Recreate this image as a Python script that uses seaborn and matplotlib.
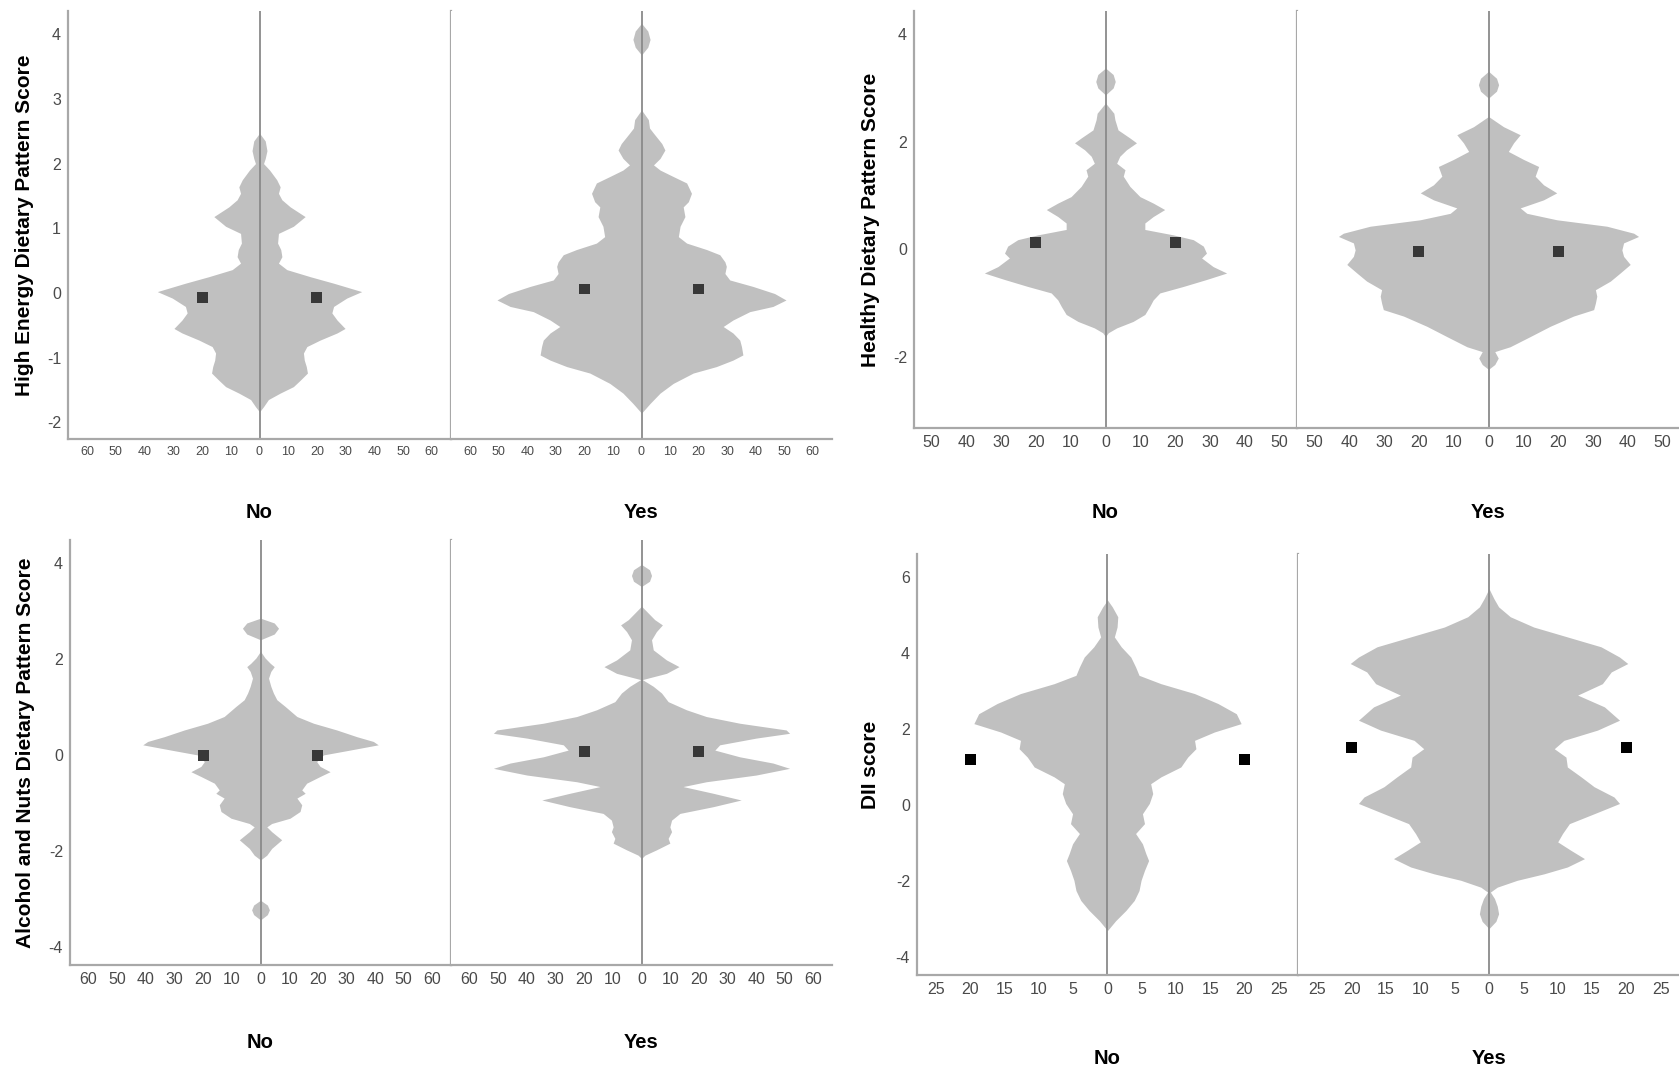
import matplotlib
matplotlib.use("Agg")
import matplotlib.pyplot as plt
import numpy as np
import pandas as pd
import seaborn as sns

# ---- frequency profiles (score level -> count), one per group ----
# High Energy Dietary Pattern
he_no_y = [2.47, 2.35, 2.2, 2.08, 2.0, 1.9, 1.75, 1.64, 1.54, 1.44, 1.33, 1.18, 1.03, 0.92, 0.77,
           0.67, 0.56, 0.46, 0.36, 0.25, 0.15, 0.02, -0.08, -0.21, -0.31, -0.42, -0.55, -0.62, -0.73,
           -0.83, -0.93, -1.04, -1.14, -1.24, -1.35, -1.45, -1.55, -1.65, -1.76, -1.84]
he_no_n = [0, 2.0, 2.6, 2.0, 1.4, 3.5, 6.0, 7.2, 6.6, 7.8, 10.7, 15.9, 11.8, 6.6, 6.3,
           7.4, 7.8, 6.6, 9.5, 17.7, 25.8, 35.6, 30.4, 25.8, 25.2, 27.0, 29.8, 27.0, 21.1,
           16.5, 15.3, 15.6, 16.3, 16.7, 14.2, 11.8, 7.2, 3.1, 1.4, 0]
he_yes_y = [4.17, 4.05, 3.92, 3.80, 3.68, 2.83, 2.68, 2.55, 2.47, 2.31, 2.21, 2.08, 1.98, 1.90, 1.80,
            1.70, 1.54, 1.41, 1.33, 1.18, 1.03, 0.87, 0.77, 0.67, 0.59, 0.48, 0.41, 0.30, 0.20, 0.10,
            -0.01, -0.11, -0.21, -0.29, -0.42, -0.52, -0.62, -0.73, -0.83, -0.96, -1.04, -1.14,
            -1.24, -1.40, -1.55, -1.71, -1.86]
he_yes_n = [0, 2.2, 3.0, 2.2, 0, 0, 2.4, 2.8, 4.2, 7.1, 8.2, 6.5, 4.2, 6.5, 11.1,
            15.8, 17.5, 16.4, 14.6, 15.2, 13.5, 12.9, 15.8, 22.8, 27.4, 29.2, 29.7, 29.2, 30.9, 39.0,
            46.6, 50.6, 46.0, 37.9, 32.0, 28.6, 32.0, 34.4, 35.0, 35.5, 32.0, 26.2,
            18.1, 11.1, 6.5, 3.0, 0]
he_means = [-0.07, 0.06]

# Healthy Dietary Pattern
hd_no_y = [3.37, 3.25, 3.12, 3.0, 2.87, 2.72, 2.53, 2.41, 2.22, 2.07, 1.98, 1.85, 1.73, 1.60, 1.48,
           1.36, 1.17, 0.98, 0.86, 0.74, 0.61, 0.49, 0.37, 0.27, 0.18, 0.06, -0.07, -0.16, -0.32,
           -0.44, -0.56, -0.69, -0.81, -0.94, -1.06, -1.21, -1.34, -1.46, -1.55, -1.62]
hd_no_n = [0, 2.2, 2.8, 2.2, 0, 0, 2.4, 2.7, 3.6, 7.0, 8.9, 6.0, 4.1, 3.2, 5.6,
           5.1, 7.0, 9.9, 13.7, 17.0, 13.7, 11.3, 11.3, 19.4, 25.2, 28.1, 29.0, 27.6, 30.9,
           34.8, 29.0, 22.3, 15.6, 13.7, 12.7, 11.3, 7.9, 3.2, 0.8, 0]
hd_yes_y = [3.31, 3.18, 3.06, 2.94, 2.81, 2.47, 2.28, 2.13, 1.98, 1.82, 1.67, 1.54, 1.36, 1.20, 1.05,
            0.92, 0.77, 0.67, 0.55, 0.43, 0.30, 0.24, 0.12, -0.01, -0.13, -0.28, -0.44, -0.59,
            -0.75, -0.87, -1.0, -1.12, -1.24, -1.43, -1.62, -1.81, -1.90, -2.02, -2.14, -2.23]
hd_yes_n = [0, 2.3, 2.9, 2.3, 0, 0, 4.3, 9.1, 7.2, 5.7, 10.1, 14.4, 13.4, 15.8, 19.6,
            15.8, 9.1, 11.0, 19.6, 34.0, 41.7, 43.1, 38.8, 38.3, 38.8, 40.7, 37.8, 35.0,
            30.7, 31.1, 30.7, 30.2, 24.4, 17.7, 12.0, 6.2, 1.8, 2.8, 1.8, 0]
hd_means = [0.13, -0.04]

# Alcohol and Nuts Dietary Pattern
an_no_y = [2.85, 2.75, 2.64, 2.52, 2.40, 2.16, 2.02, 1.91, 1.84, 1.74, 1.60, 1.43, 1.29, 1.15, 1.01,
           0.80, 0.66, 0.52, 0.38, 0.28, 0.21, 0.10, 0.0, -0.14, -0.24, -0.35, -0.45, -0.59, -0.73,
           -0.80, -0.90, -1.04, -1.18, -1.32, -1.43, -1.50, -1.60, -1.77, -1.95, -2.09, -2.19,
           -3.03, -3.13, -3.23, -3.33, -3.44]
an_no_n = [0, 4.8, 6.3, 4.8, 0, 0, 1.6, 3.4, 4.8, 3.6, 2.8, 3.6, 4.5, 5.7, 8.6,
           12.7, 18.5, 26.6, 33.6, 39.4, 41.1, 31.2, 22.0, 19.6, 20.8, 24.3, 20.8, 16.1, 14.4,
           15.6, 12.7, 14.4, 13.8, 10.3, 3.9, 2.2, 3.9, 7.4, 3.9, 2.2, 0,
           0, 2.4, 3.1, 2.4, 0]
an_yes_y = [3.97, 3.86, 3.74, 3.62, 3.51, 3.10, 2.96, 2.82, 2.71, 2.57, 2.40, 2.19, 1.98, 1.84, 1.70,
            1.57, 1.43, 1.29, 1.11, 0.94, 0.80, 0.66, 0.52, 0.45, 0.35, 0.21, 0.10, -0.04, -0.17,
            -0.28, -0.42, -0.56, -0.66, -0.80, -0.94, -1.08, -1.22, -1.36, -1.50, -1.60, -1.74,
            -1.84, -1.98, -2.09, -2.16]
an_yes_n = [0, 2.8, 3.5, 2.8, 0, 0, 2.3, 4.6, 7.3, 5.2, 3.5, 4.1, 8.7, 13.1, 8.7,
            0.3, 4.1, 7.0, 9.3, 15.7, 22.6, 34.3, 50.5, 51.7, 40.0, 27.3, 25.6, 34.3, 45.9,
            51.7, 40.0, 22.6, 14.5, 25.0, 34.8, 25.0, 13.4, 10.5, 9.9, 10.5, 9.3,
            9.9, 5.2, 1.2, 0]
an_means = [-0.02, 0.08]

# DII
dii_no_y = [5.39, 5.21, 4.95, 4.68, 4.42, 4.16, 3.89, 3.63, 3.41, 3.19, 2.93, 2.67, 2.40, 2.14, 1.92,
            1.70, 1.48, 1.26, 1.00, 0.74, 0.56, 0.30, 0.04, -0.23, -0.49, -0.75, -1.02, -1.28,
            -1.46, -1.72, -1.98, -2.25, -2.51, -2.77, -3.04, -3.30]
dii_no_n = [0, 0.7, 1.5, 1.4, 1.0, 2.0, 3.4, 4.1, 4.6, 7.8, 12.7, 16.1, 18.8, 19.5, 15.6,
            12.7, 12.9, 11.7, 10.7, 7.8, 6.3, 6.6, 6.1, 5.1, 5.4, 4.1, 5.1, 5.6,
            6.0, 5.4, 4.9, 4.6, 3.9, 2.7, 1.2, 0]
dii_yes_y = [5.69, 5.43, 5.21, 4.95, 4.68, 4.42, 4.16, 3.89, 3.72, 3.50, 3.19, 2.89, 2.58, 2.23, 1.97,
             1.70, 1.48, 1.26, 1.00, 0.74, 0.48, 0.21, 0.04, -0.23, -0.49, -0.75, -0.97, -1.19,
             -1.41, -1.63, -1.81, -1.98, -2.16, -2.29, -2.46, -2.66, -2.86, -3.06, -3.25]
dii_yes_n = [0, 0.7, 1.4, 3.1, 6.5, 11.4, 16.3, 19.0, 20.2, 17.8, 16.5, 12.9, 16.8, 19.0, 15.8,
             10.9, 9.5, 11.2, 11.4, 13.4, 15.3, 18.2, 19.0, 15.3, 11.7, 10.7, 10.0, 11.9,
             13.9, 11.4, 8.0, 4.1, 1.2, 0.2, 0.8, 1.2, 1.4, 1.0, 0]
dii_means = [1.2, 1.5]

groups = ["No", "Yes"]
mean_marker_x = 20

# ---- styling ----
sns.set_theme(style="white")
plt.rcParams["font.family"] = ["Liberation Sans", "DejaVu Sans"]

FILL = "#c0c0c0"
AXIS = "#a8a8a8"
CENTER = "#8a8a8a"
TICK = "#4a4a4a"

W, H = 1679, 1071
fig = plt.figure(figsize=(W / 100, H / 100), dpi=100)


def px_box(x0, x1, y0, y1):
    """Axes rect from pixel extents (top-left origin)."""
    return [x0 / W, 1 - y1 / H, (x1 - x0) / W, (y1 - y0) / H]


panels = [
    dict(ylabel="High Energy Dietary Pattern Score", box=(68, 451, 832, 11, 439),
         xlim=66.7, xticks=np.arange(-60, 61, 10), ylim=(-2.26, 4.36), yticks=np.arange(-2, 5, 1),
         prof=[(he_no_y, he_no_n), (he_yes_y, he_yes_n)], means=he_means,
         mcolor="#383838", xfs=9, group_y=512, lab_x=-0.089),
    dict(ylabel="Healthy Dietary Pattern Score", box=(914, 1297, 1680, 11, 428),
         xlim=55.0, xticks=np.arange(-50, 51, 10), ylim=(-3.32, 4.43), yticks=[-2, 0, 2, 4],
         prof=[(hd_no_y, hd_no_n), (hd_yes_y, hd_yes_n)], means=hd_means,
         mcolor="#383838", xfs=11.5, group_y=512, lab_x=-0.089),
    dict(ylabel="Alcohol and Nuts Dietary Pattern Score", box=(70, 451, 832, 540, 965),
         xlim=66.5, xticks=np.arange(-60, 61, 10), ylim=(-4.38, 4.48), yticks=[-4, -2, 0, 2, 4],
         prof=[(an_no_y, an_no_n), (an_yes_y, an_yes_n)], means=an_means,
         mcolor="#383838", xfs=11.5, group_y=1043, lab_x=-0.092),
    dict(ylabel="DII score", box=(917, 1298, 1680, 554, 975),
         xlim=27.8, xticks=np.arange(-25, 26, 5), ylim=(-4.47, 6.6), yticks=[-4, -2, 0, 2, 4, 6],
         prof=[(dii_no_y, dii_no_n), (dii_yes_y, dii_yes_n)], means=dii_means,
         mcolor="#000000", xfs=11.5, group_y=1058, lab_x=-0.097),
]

for p in panels:
    x0, xm, x1, y0, y1 = p["box"]
    halves = [(x0, xm), (xm, x1)]
    for k, (g, (ys, ns)) in enumerate(zip(groups, p["prof"])):
        ax = fig.add_axes(px_box(halves[k][0], halves[k][1], y0, y1))
        ys = np.asarray(ys, float)
        ns = np.asarray(ns, float)
        ax.fill_betweenx(ys, -ns, ns, color=FILL, lw=0, zorder=1)
        ax.axvline(0, color=CENTER, lw=1.3, zorder=2)

        mdf = pd.DataFrame({"x": [-mean_marker_x, mean_marker_x],
                            "y": [p["means"][k]] * 2})
        sns.scatterplot(data=mdf, x="x", y="y", marker="s", s=62, color=p["mcolor"],
                        edgecolor="none", ax=ax, zorder=3, legend=False)

        ax.set_xlim(-p["xlim"], p["xlim"])
        ax.set_ylim(*p["ylim"])
        ax.set_xticks(p["xticks"])
        ax.set_xticklabels([str(abs(int(v))) for v in p["xticks"]])
        ax.tick_params(axis="x", length=0, pad=5, labelsize=p["xfs"], labelcolor=TICK)
        ax.set_xlabel("")

        for s in ("top", "left", "right", "bottom"):
            ax.spines[s].set_visible(False)
        ax.spines["bottom"].set_visible(True)
        ax.spines["bottom"].set_color(AXIS)
        ax.spines["bottom"].set_linewidth(1.6)

        if k == 0:
            ax.spines["left"].set_visible(True)
            ax.spines["right"].set_visible(True)
            for s in ("left", "right"):
                ax.spines[s].set_color(AXIS)
                ax.spines[s].set_linewidth(1.6)
            ax.set_yticks(p["yticks"])
            ax.set_yticklabels([str(int(v)) for v in p["yticks"]])
            ax.tick_params(axis="y", length=0, pad=5, labelsize=11.5, labelcolor=TICK)
            ax.set_ylabel(p["ylabel"], fontsize=15, fontweight="bold", color="black")
            ax.yaxis.set_label_coords(p["lab_x"], 0.5)
        else:
            ax.set_yticks([])
            ax.set_ylabel("")

        cx = (halves[k][0] + halves[k][1]) / 2 / W
        fig.text(cx, 1 - p["group_y"] / H, g, ha="center", va="center",
                 fontsize=14.5, fontweight="bold", color="black")

fig.savefig("out.png", dpi=100, facecolor="white")
